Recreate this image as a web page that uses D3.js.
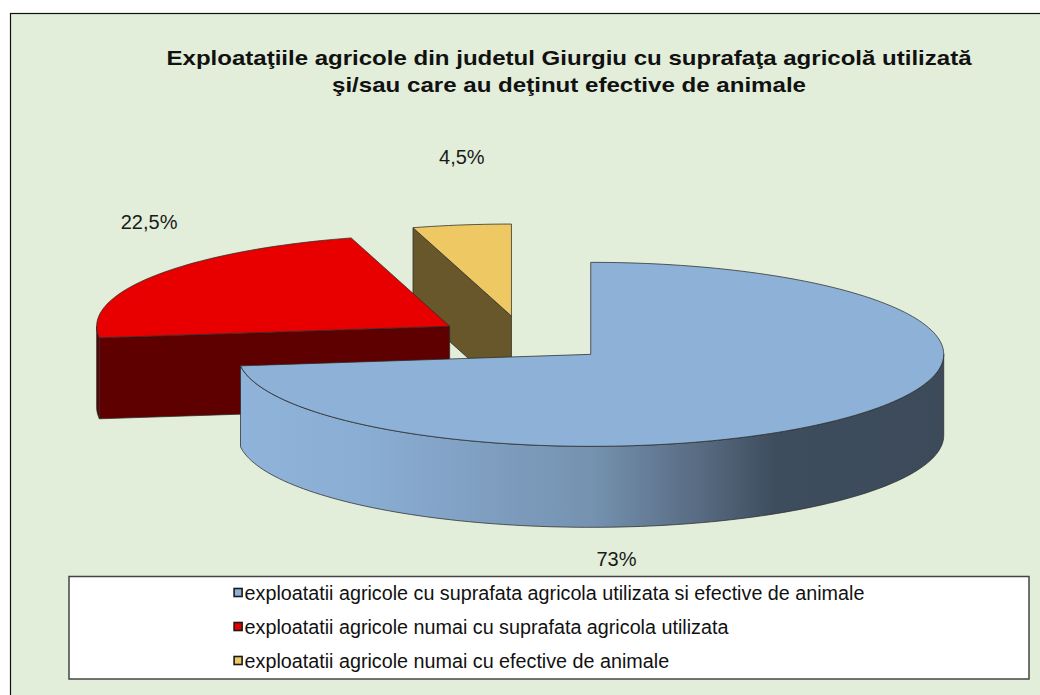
<!DOCTYPE html>
<html>
<head>
<meta charset="utf-8">
<script src="https://cdn.jsdelivr.net/npm/d3@7"></script>
<style>
  html, body { margin: 0; padding: 0; background: #ffffff; }
  svg { display: block; }
  text { font-family: "Liberation Sans", Arial, sans-serif; }
</style>
</head>
<body>
<svg id="chart" width="1040" height="695"></svg>
<script>
// ---- data ----
const titleLines = [
  "Exploataţiile agricole din judetul Giurgiu cu suprafaţa agricolă utilizată",
  "şi/sau care au deţinut efective de animale"
];
const categories = [
  "exploatatii agricole cu suprafata agricola utilizata si efective de animale",
  "exploatatii agricole numai cu suprafata agricola utilizata",
  "exploatatii agricole numai cu efective de animale"
];
const values = [73, 22.5, 4.5];
const valueLabels = ["73%", "22,5%", "4,5%"];
const topColors = ["#8EB1D7", "#E80000", "#EEC862"];
const sideColors = ["url(#blueSide)", "#5F0000", "#67572A"];
// label anchors relative to pie centre, in units of (rx, ry)
const labelAnchors = [[0.262, 2.39], [-1.062, -1.27], [-0.176, -1.98]];

// ---- layout ----
const W = 1040, H = 695;
const cx = 524, cy = 339, rx = 353, ry = 92, depth = 81, explode = 0.252;
const titleWidths = [805, 474];

const svg = d3.select("#chart");
const defs = svg.append("defs");
const g = defs.append("linearGradient").attr("id", "blueSide")
  .attr("x1", "0").attr("x2", "1").attr("y1", "0").attr("y2", "0");
[[0, "#90B3DA"], [0.18, "#8AADD3"], [0.5, "#7592B0"], [0.66, "#56697F"],
 [0.76, "#3E4D5E"], [1, "#3C4A5A"]].forEach(([o, c]) =>
  g.append("stop").attr("offset", o).attr("stop-color", c));

// background and frame
svg.append("rect").attr("x", 10.5).attr("y", 13.5).attr("width", W + 20).attr("height", H + 20)
  .attr("fill", "#E2EED9").attr("stroke", "#111").attr("stroke-width", 1.2);

// title
const titleG = svg.append("g").attr("font-weight", "bold").attr("fill", "#111");
titleLines.forEach((t, i) => {
  titleG.append("text").attr("x", 569).attr("y", 57 + i * 27)
    .attr("text-anchor", "middle").attr("dominant-baseline", "central")
    .attr("font-size", 21)
    .attr("textLength", titleWidths[i]).attr("lengthAdjust", "spacingAndGlyphs")
    .text(t);
});

// pie
const pie = d3.pie().sort(null).startAngle(0).endAngle(2 * Math.PI);
const arcs = pie(values).map((d, i) => {
  const mid = (d.startAngle + d.endAngle) / 2;
  return Object.assign(d, {
    i, mid,
    off: [explode * rx * Math.sin(mid), -explode * ry * Math.cos(mid)]
  });
});

function pt(a, off, dz) {
  return [cx + off[0] + rx * Math.sin(a), cy + off[1] - ry * Math.cos(a) + (dz || 0)];
}
function arcPts(a0, a1, off, dz) {
  const n = Math.max(2, Math.ceil((a1 - a0) / (2 * Math.PI) * 240));
  const s = d3.range(n + 1).map(k => a0 + (a1 - a0) * k / n);
  return s.map(a => pt(a, off, dz));
}
const line = d3.line();

const pieG = svg.append("g").attr("stroke", "#2b2b2b").attr("stroke-width", 0.75)
  .attr("stroke-linejoin", "round");

const order = arcs.slice().sort((a, b) => (-Math.cos(a.mid)) - (-Math.cos(b.mid)));
order.forEach(d => {
  const c0 = [cx + d.off[0], cy + d.off[1]];
  const c1 = [c0[0], c0[1] + depth];
  const sg = pieG.append("g");
  if (Math.sin(d.startAngle) < -1e-6) {
    const p = pt(d.startAngle, d.off), pb = pt(d.startAngle, d.off, depth);
    sg.append("path").attr("d", line([c0, p, pb, c1]) + "Z").attr("fill", sideColors[d.i]);
  }
  if (Math.sin(d.endAngle) > 1e-6) {
    const p = pt(d.endAngle, d.off), pb = pt(d.endAngle, d.off, depth);
    sg.append("path").attr("d", line([c0, p, pb, c1]) + "Z").attr("fill", sideColors[d.i]);
  }
  const s = Math.max(d.startAngle, Math.PI / 2), e = Math.min(d.endAngle, 3 * Math.PI / 2);
  if (e > s) {
    const topP = arcPts(s, e, d.off, 0);
    const botP = arcPts(s, e, d.off, depth).reverse();
    sg.append("path").attr("d", line(topP.concat(botP)) + "Z").attr("fill", sideColors[d.i]);
  }
  const tp = [c0].concat(arcPts(d.startAngle, d.endAngle, d.off, 0));
  sg.append("path").attr("d", line(tp) + "Z").attr("fill", topColors[d.i]);
});

// data labels
svg.append("g").selectAll("text").data(arcs).join("text")
  .attr("x", d => cx + labelAnchors[d.i][0] * rx)
  .attr("y", d => cy + labelAnchors[d.i][1] * ry)
  .attr("text-anchor", "middle").attr("dominant-baseline", "central")
  .attr("font-size", 20).attr("fill", "#1a1a1a")
  .text(d => valueLabels[d.i]);

// legend
const lgX = 69, lgY = 576.5, lgW = 960, lgH = 102.5;
svg.append("rect").attr("x", lgX).attr("y", lgY).attr("width", lgW).attr("height", lgH)
  .attr("fill", "#ffffff").attr("stroke", "#444").attr("stroke-width", 1.5);

const rowY = d3.scalePoint().domain(categories).range([592.5, 660.5]);
const lg = svg.append("g");
const items = lg.selectAll("g").data(categories).join("g")
  .attr("transform", c => `translate(0,${rowY(c)})`);
items.append("text")
  .attr("dominant-baseline", "central").attr("font-size", 16).attr("fill", "#111")
  .text(c => c);
const firstW = items.select("text").node().getComputedTextLength();
const lfs = 16 * 620 / firstW;
items.selectAll("text").attr("font-size", lfs);
const maxW = d3.max(items.selectAll("text").nodes(), n => n.getComputedTextLength());
const sw = 9, gap = 2;
const blockX = lgX + lgW / 2 - (sw + gap + maxW) / 2;
items.select("text").attr("x", blockX + sw + gap);
items.append("rect").attr("x", blockX).attr("y", -4.5).attr("width", sw - 1).attr("height", sw - 1)
  .attr("transform", "translate(0.5,0.5)")
  .attr("fill", (c, i) => topColors[i]).attr("stroke", "#1a1a1a").attr("stroke-width", 1.6);
</script>
</body>
</html>
